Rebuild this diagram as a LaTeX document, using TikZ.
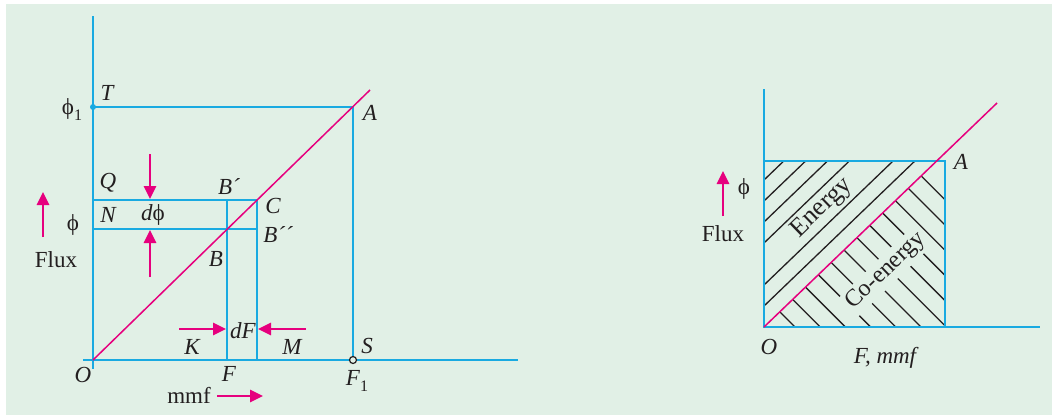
\documentclass[tikz,border=0pt]{standalone}
\usepackage{fontspec}
\setmainfont{Liberation Serif}
\usetikzlibrary{arrows.meta}
\definecolor{bg}{RGB}{225,240,230}
\definecolor{lblue}{RGB}{25,170,225}
\definecolor{mag}{RGB}{230,0,126}
\definecolor{ink}{RGB}{35,31,32}
\newcommand{\fphi}{\textup{ϕ}}
\begin{document}
\begin{tikzpicture}[x=1pt,y=-1pt,
  axis/.style={draw=lblue,line width=2pt},
  curve/.style={draw=mag,line width=1.5pt},
  parrow/.style={draw=mag,line width=2.6pt,-{Triangle[length=13pt,width=12pt]}},
  hatch/.style={draw=ink,line width=1.3pt},
  lbl/.style={text=ink,font=\fontsize{23}{25}\selectfont\itshape,inner sep=0pt},
  txt/.style={text=ink,font=\fontsize{23}{25}\selectfont,inner sep=0pt}]
\useasboundingbox (0,0) rectangle (1052,415);
\fill[bg] (6,4) rectangle (1052,415);
% ---------- left diagram ----------
\coordinate (O) at (93,360);
\coordinate (Ytop) at (93,16);
\coordinate (Ybot) at (93,369);
\coordinate (Xl) at (83,360);
\coordinate (Xr) at (518,360);
\coordinate (T) at (93,107);
\coordinate (A) at (353,107);
\coordinate (S) at (353,360);
\coordinate (Pend) at (370,90);
\coordinate (Q) at (93,200);
\coordinate (C) at (257,200);
\coordinate (N) at (93,229);
\coordinate (Bpp) at (257,229);
\coordinate (Bp) at (227,200);
\coordinate (Fx) at (227,360);
\coordinate (Mx) at (257,360);
\draw[axis] (Ytop) -- (Ybot);
\draw[axis] (Xl) -- (Xr);
\draw[axis] (T) -- (A) -- (S);
\draw[axis] (Q) -- (C) -- (Mx);
\draw[axis] (N) -- (Bpp);
\draw[axis] (Bp) -- (Fx);
\draw[curve] (O) -- (Pend);
\fill[lblue] (T) circle (3pt);
\draw[ink,line width=1.2pt,fill=bg] (S) circle (3.5pt);
% arrows
\coordinate (fa1) at (43,237); \coordinate (fa2) at (43,192);
\draw[parrow] (fa1) -- (fa2);
\coordinate (da1) at (150,154); \coordinate (da2) at (150,199);
\draw[parrow] (da1) -- (da2);
\coordinate (ua1) at (150,277); \coordinate (ua2) at (150,230);
\draw[parrow] (ua1) -- (ua2);
\coordinate (ra1) at (179,329); \coordinate (ra2) at (226,329);
\draw[parrow] (ra1) -- (ra2);
\coordinate (la1) at (306,329); \coordinate (la2) at (258,329);
\draw[parrow] (la1) -- (la2);
\coordinate (ma1) at (217,396); \coordinate (ma2) at (263,396);
\draw[parrow] (ma1) -- (ma2);
% labels
\node[txt] (lphi1) at (72,110) {\fphi\raisebox{-6pt}{\fontsize{16}{16}\selectfont 1}};
\node[lbl] (lT) at (107,93) {T};
\node[lbl] (lA) at (370,113) {A};
\node[lbl] (lQ) at (108,183) {Q};
\node[lbl] (lBp) at (229,187) {B´};
\node[lbl] (lC) at (273,206) {C};
\node[lbl] (lN) at (108,215) {N};
\node[lbl] (ldphi) at (153,215) {d\fphi};
\node[txt] (lphi) at (73,225) {\fphi};
\node[lbl] (lBpp) at (278,235) {B´´};
\node[lbl] (lB) at (216,259) {B};
\node[txt] (lflux) at (56,260) {Flux};
\node[lbl] (ldF) at (243,331) {dF};
\node[lbl] (lK) at (192,347) {K};
\node[lbl] (lM) at (292,347) {M};
\node[lbl] (lO) at (83,375) {O};
\node[lbl] (lF) at (229,374) {F};
\node[lbl] (lF1) at (357,381) {F\raisebox{-6pt}{\fontsize{16}{16}\selectfont\upshape 1}};
\node[lbl] (lS) at (367,346) {S};
\node[txt] (lmmf) at (189,395) {mmf};
% ---------- right diagram ----------
\begin{scope}[shift={(764,327)},y=1pt]
  \coordinate (O2) at (0,0);
  \coordinate (Y2) at (0,238);
  \coordinate (X2) at (276,0);
  \coordinate (TL2) at (0,166);
  \coordinate (TR2) at (181,166);
  \coordinate (BR2) at (181,0);
  \coordinate (P2) at (233,224);
  \coordinate (I2) at (172.7,166);
  \foreach \b in {147,126,105,84,42,21}
    \draw[hatch] (0,\b) -- ({(166-\b)/0.961},166);
  \begin{scope}
    \clip (O2) -- (BR2) -- (TR2) -- (I2) -- cycle;
    \foreach \k in {0,...,11}{
      \pgfmathsetmacro\dd{31+25.2*\k}
      \draw[hatch] (-10,{\dd+10}) -- ({\dd+10},-10);
    }
  \end{scope}
  \node[txt,font=\fontsize{26}{28}\selectfont,rotate=44] (energy) at (58,119) {Energy};
  \node[txt,font=\fontsize{24}{26}\selectfont,rotate=44,fill=bg,inner sep=3pt] (coenergy) at (122,56) {Co-energy};
  \draw[axis] (Y2) -- (O2) -- (X2);
  \draw[axis] (TL2) -- (TR2) -- (BR2);
  \draw[curve] (O2) -- (P2);
\end{scope}
\coordinate (fb1) at (723,216); \coordinate (fb2) at (723,171);
\draw[parrow] (fb1) -- (fb2);
\node[lbl] (rA) at (961,162) {A};
\node[txt] (rphi) at (744,189) {\fphi};
\node[txt] (rflux) at (723,234) {Flux};
\node[lbl] (rO) at (769,347) {O};
\node[lbl] (rF) at (885,358) {F, mmf};
\end{tikzpicture}
\end{document}
